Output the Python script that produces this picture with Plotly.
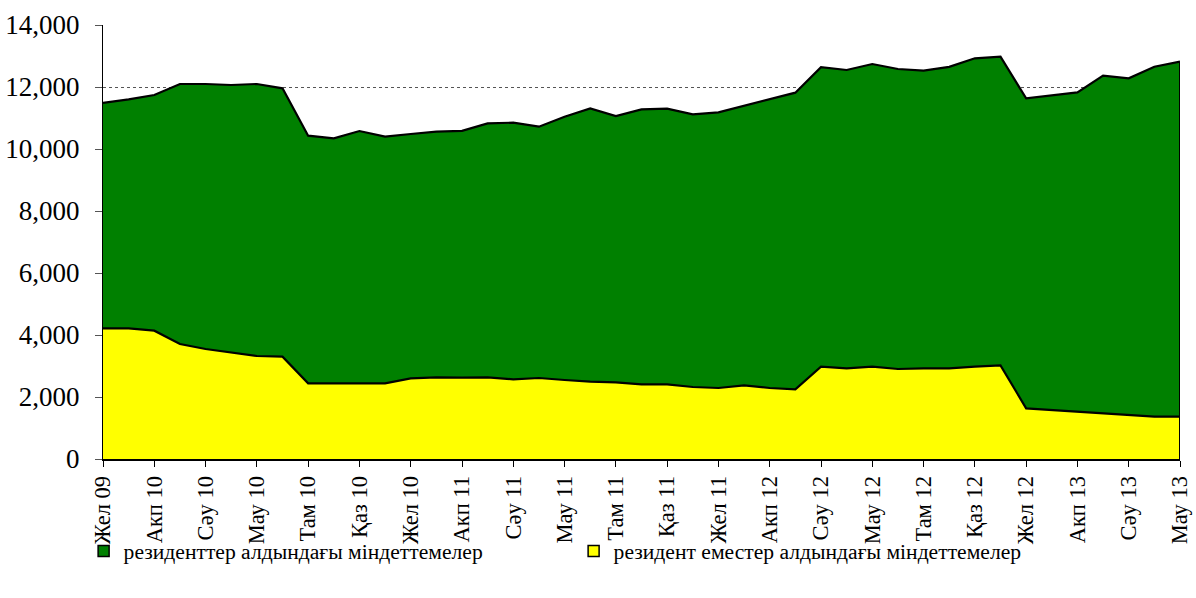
import plotly.graph_objects as go

# Monthly series, Dec 2009 – Jun 2013
months = [
    "Жел 09",
    "Қаң 10", "Акп 10", "Нау 10", "Сәу 10", "Мам 10", "Мау 10",
    "Шіл 10", "Там 10", "Қыр 10", "Қаз 10", "Қар 10", "Жел 10",
    "Қаң 11", "Акп 11", "Нау 11", "Сәу 11", "Мам 11", "Мау 11",
    "Шіл 11", "Там 11", "Қыр 11", "Қаз 11", "Қар 11", "Жел 11",
    "Қаң 12", "Акп 12", "Нау 12", "Сәу 12", "Мам 12", "Мау 12",
    "Шіл 12", "Там 12", "Қыр 12", "Қаз 12", "Қар 12", "Жел 12",
    "Қаң 13", "Акп 13", "Нау 13", "Сәу 13", "Мам 13", "Мау 13",
]

# liabilities to non-residents (bottom layer)
nonresidents = [
    4216, 4216, 4140, 3710, 3548, 3430, 3323, 3300, 2441, 2441, 2441,
    2441, 2602, 2634, 2625, 2634, 2570, 2613, 2548, 2495, 2473, 2409,
    2409, 2323, 2290, 2376, 2290, 2247, 2978, 2925, 2978, 2903, 2925,
    2925, 2978, 3022, 1634, 1580, 1505, 1473, 1419, 1365, 1365,
]

# total liabilities (top edge of the stack)
total = [
    11490, 11600, 11740, 12097, 12097, 12065, 12097, 11957, 10430, 10345, 10580,
    10397, 10484, 10559, 10585, 10828, 10849, 10720, 11043, 11312, 11065, 11280,
    11301, 11119, 11183, 11398, 11602, 11817, 12637, 12548, 12742, 12580, 12527,
    12650, 12925, 12978, 11634, 11742, 11828, 12365, 12280, 12655, 12817,
]

# liabilities to residents (upper layer)
residents = [t - n for t, n in zip(total, nonresidents)]

label_res = "резиденттер алдындағы міндеттемелер"
label_nonres = "резидент еместер алдындағы міндеттемелер"

GREEN = "#008000"
YELLOW = "#FFFF00"
FONT = "Times New Roman, Liberation Serif, serif"

x_idx = list(range(len(months)))

fig = go.Figure()

fig.add_trace(go.Scatter(
    x=x_idx, y=nonresidents, stackgroup="s", mode="lines",
    line=dict(color="black", width=2.2), fillcolor=YELLOW,
    showlegend=False, hoverinfo="skip",
))
fig.add_trace(go.Scatter(
    x=x_idx, y=residents, stackgroup="s", mode="lines",
    line=dict(color="black", width=2.2), fillcolor=GREEN,
    showlegend=False, hoverinfo="skip",
))

# closing edge of the stacked area at the last month
fig.add_trace(go.Scatter(
    x=[x_idx[-1], x_idx[-1]], y=[0, total[-1]], mode="lines",
    line=dict(color="black", width=2), showlegend=False, hoverinfo="skip",
))

# legend entries with square swatches
for rank, (name, col) in enumerate([(label_res, GREEN), (label_nonres, YELLOW)]):
    fig.add_trace(go.Scatter(
        x=[None], y=[None], mode="markers", name=name, legendrank=rank + 1,
        marker=dict(symbol="square", size=11, color=col,
                    line=dict(color="black", width=1.5)),
    ))

tick_pos = x_idx[::2]
tick_txt = months[::2]

fig.update_layout(
    width=1196, height=598,
    margin=dict(l=103, r=16, t=25, b=139, autoexpand=False),
    paper_bgcolor="white", plot_bgcolor="white",
    font=dict(family=FONT, size=22, color="black"),
    showlegend=True,
    legend=dict(
        orientation="h", x=-0.018, xanchor="left", y=-0.213, yanchor="middle",
        traceorder="normal",
        font=dict(family=FONT, size=21.6, color="black"),
        itemwidth=30, entrywidth=445, entrywidthmode="pixels",
        tracegroupgap=0, bgcolor="rgba(0,0,0,0)",
    ),
    xaxis=dict(
        range=[0, len(months) - 1], tickmode="array",
        tickvals=tick_pos, ticktext=tick_txt, tickangle=-90,
        ticks="outside", ticklen=6, tickcolor="black", tickwidth=1,
        showline=True, linecolor="black", linewidth=2,
        showgrid=False, zeroline=False, automargin=False,
        tickfont=dict(family=FONT, size=22.5, color="black"),
    ),
    yaxis=dict(
        range=[0, 14000], dtick=2000, tickformat=",",
        ticks="outside", ticklen=7, tickcolor="#555555", tickwidth=1,
        showline=True, linecolor="black", linewidth=1,
        showgrid=True, gridcolor="#555555", griddash="dot", gridwidth=1,
        zeroline=False, ticklabelstandoff=10, automargin=False,
        tickfont=dict(family=FONT, size=27, color="black"),
    ),
)

fig.write_html("out.html")
